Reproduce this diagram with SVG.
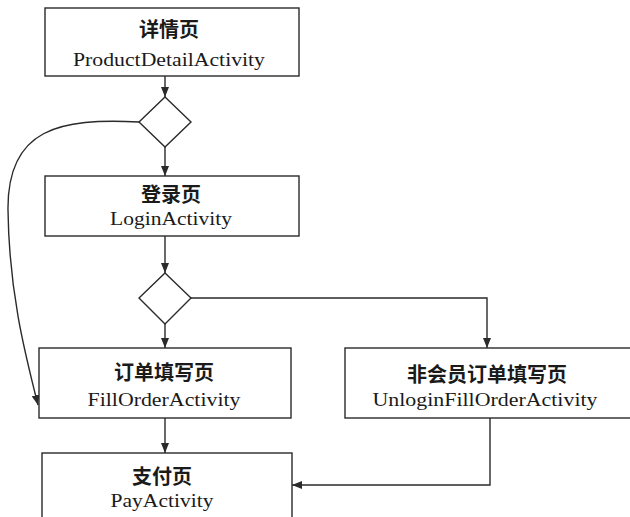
<svg xmlns="http://www.w3.org/2000/svg" width="630" height="517" viewBox="0 0 630 517">
  <defs>
    <marker id="arrow" viewBox="0 0 10 8" refX="10" refY="4" markerWidth="10" markerHeight="8" markerUnits="userSpaceOnUse" orient="auto">
      <path d="M0,0 L10,4 L0,8 Z" fill="#2a2a2a"/>
    </marker>
    <style>
      .box { fill: #ffffff; stroke: #2a2a2a; stroke-width: 1.4; }
      .dec { fill: #ffffff; stroke: #2a2a2a; stroke-width: 1.4; }
      .edge { fill: none; stroke: #2a2a2a; stroke-width: 1.4; }
      .cn { font-family: "Noto Sans CJK SC", "Noto Sans", sans-serif; font-weight: bold; font-size: 20px; fill: #1a1a1a; text-anchor: middle; }
      .en { font-family: "Liberation Serif", "DejaVu Serif", serif; font-size: 19px; fill: #1a1a1a; text-anchor: middle; }
    </style>
  </defs>
  <rect width="630" height="517" fill="#ffffff"/>

  <!-- connectors -->
  <g id="connectors">
    <line class="edge" x1="165" y1="76" x2="165" y2="97" marker-end="url(#arrow)"/>
    <line class="edge" x1="165" y1="147" x2="165" y2="176" marker-end="url(#arrow)"/>
    <path class="edge" d="M139,122 C60,118 7,128 8,210 C9,290 24,350 38,405" marker-end="url(#arrow)"/>
    <line class="edge" x1="165" y1="236" x2="165" y2="273" marker-end="url(#arrow)"/>
    <line class="edge" x1="165" y1="324" x2="165" y2="348" marker-end="url(#arrow)"/>
    <polyline class="edge" points="191,298 487,298 487,348" marker-end="url(#arrow)"/>
    <line class="edge" x1="165" y1="418" x2="165" y2="453" marker-end="url(#arrow)"/>
    <polyline class="edge" points="490,418 490,485 292,485" marker-end="url(#arrow)"/>
  </g>

  <g id="detail">
    <rect class="box" x="45" y="8" width="254" height="68"/>
    <text class="cn" x="169" y="37">详情页</text>
    <text class="en" x="169" y="66" textLength="192" lengthAdjust="spacingAndGlyphs">ProductDetailActivity</text>
  </g>

  <g id="decision1">
    <polygon class="dec" points="165,97 191,122 165,147 139,122"/>
  </g>

  <g id="login">
    <rect class="box" x="45" y="176" width="254" height="60"/>
    <text class="cn" x="171" y="202">登录页</text>
    <text class="en" x="171" y="225" textLength="122" lengthAdjust="spacingAndGlyphs">LoginActivity</text>
  </g>

  <g id="decision2">
    <polygon class="dec" points="165,273 191,298 165,324 139,298"/>
  </g>

  <g id="fillorder">
    <rect class="box" x="39" y="348" width="252" height="70"/>
    <text class="cn" x="164" y="380">订单填写页</text>
    <text class="en" x="164" y="406" textLength="153" lengthAdjust="spacingAndGlyphs">FillOrderActivity</text>
  </g>

  <g id="unlogin">
    <rect class="box" x="345" y="348" width="300" height="70"/>
    <text class="cn" x="487" y="382">非会员订单填写页</text>
    <text class="en" x="485" y="406" textLength="225" lengthAdjust="spacingAndGlyphs">UnloginFillOrderActivity</text>
  </g>

  <g id="pay">
    <rect class="box" x="42" y="453" width="250" height="80"/>
    <text class="cn" x="162" y="484">支付页</text>
    <text class="en" x="162" y="507" textLength="103" lengthAdjust="spacingAndGlyphs">PayActivity</text>
  </g>
</svg>
